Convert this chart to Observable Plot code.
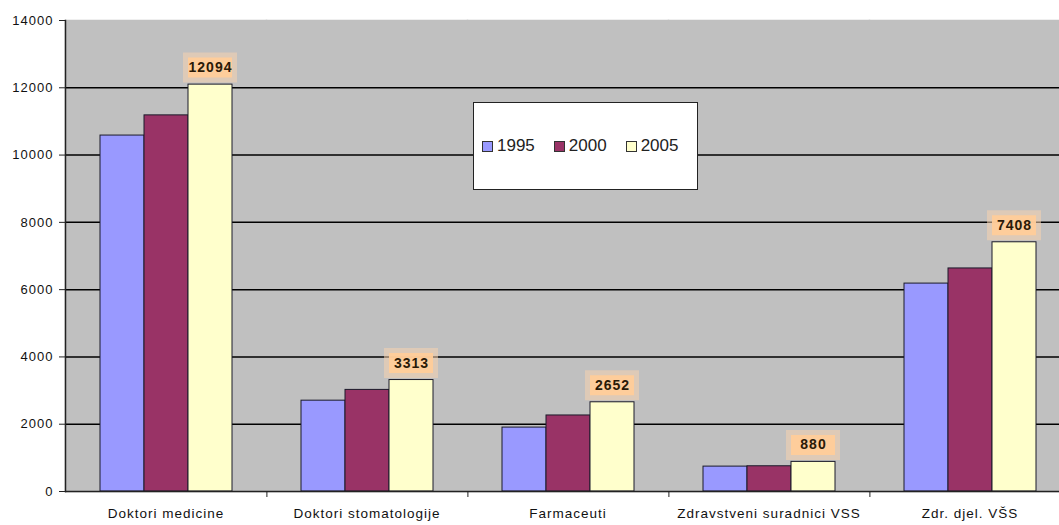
<!DOCTYPE html>
<html>
<head>
<meta charset="utf-8">
<script src="https://cdn.jsdelivr.net/npm/d3@7"></script>
<script src="https://cdn.jsdelivr.net/npm/@observablehq/plot@0.6"></script>
<style>
  html, body { margin: 0; padding: 0; background: white; }
  #wrap { position: relative; width: 1059px; height: 525px; overflow: hidden; }
  #legend {
    position: absolute; left: 473px; top: 102px; width: 215px; height: 86px;
    background: white; border: 1.5px solid #222;
    display: flex; align-items: center; padding-left: 8px; box-sizing: content-box;
    font-family: "Liberation Sans", Arial, sans-serif; font-size: 17px; color: #222;
  }
  .item { display: flex; align-items: center; margin-right: 19px; }
  .sw { width: 9px; height: 9px; border: 1px solid #333; margin-right: 4px; }
</style>
</head>
<body>
<div id="wrap"></div>
<script>
const categories = ["Doktori medicine", "Doktori stomatologije", "Farmaceuti", "Zdravstveni suradnici VSS", "Zdr. djel. VŠS"];
const years = ["1995", "2000", "2005"];
const values1995 = [10580, 2700, 1900, 740, 6180];
const values2000 = [11180, 3020, 2260, 750, 6630];
const values2005 = [12094, 3313, 2652, 880, 7408];
const yTicks = [0, 2000, 4000, 6000, 8000, 10000, 12000, 14000];
const colors = ["#9999ff", "#993366", "#ffffcc"];

const series = [values1995, values2000, values2005];
const rows = categories.flatMap((c, i) => years.map((y, j) => ({cat: c, year: y, value: series[j][i]})));
const labelled = rows.filter(d => d.year === "2005");

const chart = Plot.plot({
  width: 1059,
  height: 525,
  marginLeft: 63,
  marginRight: -13,
  marginTop: 20,
  marginBottom: 34,
  style: {fontFamily: "'Liberation Sans', Arial, sans-serif", background: "white", color: "#111", letterSpacing: "1px", overflow: "hidden"},
  fx: {domain: categories, padding: 0, label: null},
  x: {domain: years, paddingInner: 0, paddingOuter: 0.74, axis: null},
  y: {domain: [0, 14000], label: null},
  color: {domain: years, range: colors},
  marks: [
    Plot.frame({fill: "#c0c0c0", stroke: "#c0c0c0", strokeWidth: 1.5}),
    Plot.gridY(yTicks.filter(d => d > 0 && d < 14000), {stroke: "#000", strokeOpacity: 1, strokeWidth: 1.5}),
    Plot.barY(rows, {fx: "cat", x: "year", y: "value", fill: "year", stroke: "#1a1a2a", strokeWidth: 1}),
    Plot.tickY(labelled, {fx: "cat", x: "year", y: "value", dy: -17, stroke: "#f6d2ae", strokeWidth: 30, insetLeft: -5, insetRight: -5, strokeOpacity: 0.55}),
    Plot.tickY(labelled, {fx: "cat", x: "year", y: "value", dy: -17, stroke: "#ffcc99", strokeWidth: 20, strokeOpacity: 0.95}),
    Plot.text(labelled, {fx: "cat", x: "year", y: "value", dy: -17, text: d => String(d.value), fontWeight: "bold", fontSize: 14, fill: "#2a1a08"}),
    Plot.ruleY([0], {stroke: "#222", strokeWidth: 1.5}),
    Plot.frame({anchor: "left", facetAnchor: "left", stroke: "#222", strokeWidth: 1.5}),
    Plot.axisY({ticks: yTicks, tickFormat: d3.format("d"), tickSize: 6, tickPadding: 6, fontSize: 13, label: null, stroke: "#222"}),
    Plot.axisFx({anchor: "bottom", tickSize: 0, tickPadding: 17, fontSize: 13.5, label: null}),
    Plot.axisFx({anchor: "bottom", tickSize: 6, text: null, dx: 100.9, label: null, stroke: "#222"})
  ]
});

const wrap = document.getElementById("wrap");
wrap.appendChild(chart);

const legend = document.createElement("div");
legend.id = "legend";
years.forEach((y, i) => {
  const item = document.createElement("div");
  item.className = "item";
  const sw = document.createElement("div");
  sw.className = "sw";
  sw.style.background = colors[i];
  const t = document.createElement("span");
  t.textContent = y;
  item.appendChild(sw);
  item.appendChild(t);
  legend.appendChild(item);
});
wrap.appendChild(legend);
</script>
</body>
</html>
